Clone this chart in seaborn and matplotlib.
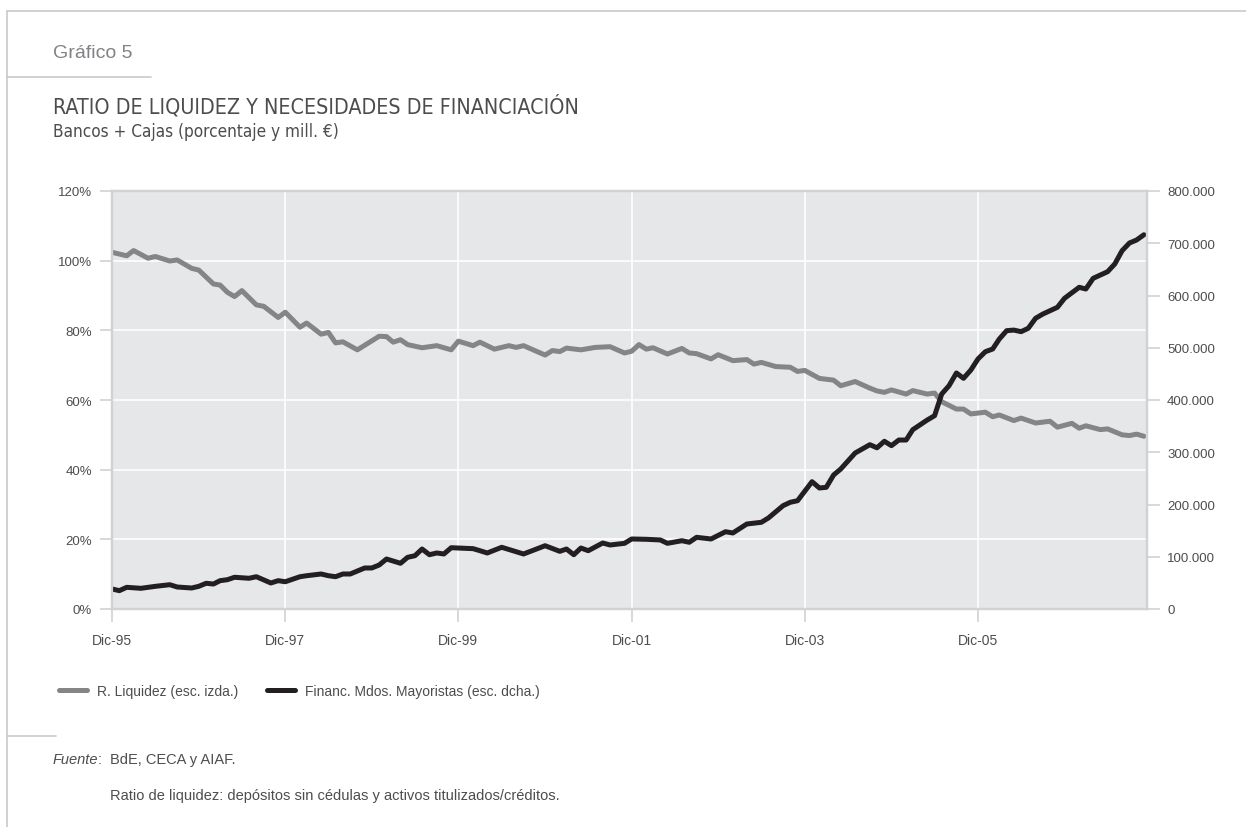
import matplotlib
matplotlib.use("Agg")
import matplotlib.pyplot as plt
from matplotlib.lines import Line2D
from matplotlib.ticker import FuncFormatter
import pandas as pd
import seaborn as sns

# Ratio de liquidez (%), escala izquierda
fechas_liquidez = [
    "1995-12", "1996-02", "1996-03", "1996-05", "1996-06", "1996-08", "1996-09", "1996-11",
    "1996-12", "1997-02", "1997-03", "1997-04", "1997-05", "1997-06", "1997-08", "1997-09",
    "1997-11", "1997-12", "1998-02", "1998-03", "1998-05", "1998-06", "1998-07", "1998-08",
    "1998-10", "1999-01", "1999-02", "1999-03", "1999-04", "1999-05", "1999-07", "1999-09",
    "1999-11", "1999-12", "2000-02", "2000-03", "2000-05", "2000-07", "2000-08", "2000-09",
    "2000-12", "2001-01", "2001-02", "2001-03", "2001-05", "2001-07", "2001-09", "2001-11",
    "2001-12", "2002-01", "2002-02", "2002-03", "2002-05", "2002-07", "2002-08", "2002-09",
    "2002-11", "2002-12", "2003-02", "2003-04", "2003-05", "2003-06", "2003-08", "2003-10",
    "2003-11", "2003-12", "2004-02", "2004-04", "2004-05", "2004-07", "2004-09", "2004-10",
    "2004-11", "2004-12", "2005-02", "2005-03", "2005-05", "2005-06", "2005-07", "2005-09",
    "2005-10", "2005-11", "2006-01", "2006-02", "2006-03", "2006-05", "2006-06", "2006-08",
    "2006-10", "2006-11", "2007-01", "2007-02", "2007-03", "2007-05", "2007-06", "2007-08",
    "2007-09", "2007-10", "2007-11",
]
ratio_liquidez = [
    102.4, 101.4, 102.9, 100.7, 101.2, 99.9, 100.2, 97.8,
    97.3, 93.3, 93.0, 90.9, 89.7, 91.4, 87.3, 86.9,
    83.7, 85.2, 80.9, 82.1, 78.9, 79.4, 76.4, 76.7,
    74.4, 78.3, 78.2, 76.6, 77.3, 75.9, 75.0, 75.6,
    74.4, 76.9, 75.6, 76.6, 74.6, 75.6, 75.1, 75.6,
    72.9, 74.2, 73.9, 74.9, 74.4, 75.1, 75.3, 73.5,
    74.0, 75.9, 74.6, 75.0, 73.2, 74.8, 73.5, 73.3,
    71.8, 73.0, 71.3, 71.6, 70.3, 70.8, 69.6, 69.4,
    68.2, 68.5, 66.2, 65.7, 64.1, 65.3, 63.4, 62.6,
    62.2, 62.9, 61.7, 62.7, 61.7, 62.0, 59.5, 57.4,
    57.4, 56.0, 56.5, 55.2, 55.7, 54.1, 54.8, 53.4,
    53.9, 52.2, 53.3, 51.9, 52.6, 51.5, 51.7, 50.0,
    49.8, 50.2, 49.6,
]

# Financiación en mercados mayoristas (mill. €), escala derecha
fechas_financ = [
    "1995-12", "1996-01", "1996-02", "1996-04", "1996-06", "1996-08", "1996-09", "1996-11",
    "1996-12", "1997-01", "1997-02", "1997-03", "1997-04", "1997-05", "1997-07", "1997-08",
    "1997-10", "1997-11", "1997-12", "1998-02", "1998-03", "1998-05", "1998-06", "1998-07",
    "1998-08", "1998-09", "1998-11", "1998-12", "1999-01", "1999-02", "1999-04", "1999-05",
    "1999-06", "1999-07", "1999-08", "1999-09", "1999-10", "1999-11", "1999-12", "2000-02",
    "2000-03", "2000-04", "2000-06", "2000-09", "2000-12", "2001-02", "2001-03", "2001-04",
    "2001-05", "2001-06", "2001-08", "2001-09", "2001-11", "2001-12", "2002-02", "2002-04",
    "2002-05", "2002-07", "2002-08", "2002-09", "2002-11", "2003-01", "2003-02", "2003-04",
    "2003-06", "2003-07", "2003-09", "2003-10", "2003-11", "2004-01", "2004-02", "2004-03",
    "2004-04", "2004-05", "2004-07", "2004-09", "2004-10", "2004-11", "2004-12", "2005-01",
    "2005-02", "2005-03", "2005-05", "2005-06", "2005-07", "2005-08", "2005-09", "2005-10",
    "2005-11", "2005-12", "2006-01", "2006-02", "2006-03", "2006-04", "2006-05", "2006-06",
    "2006-07", "2006-08", "2006-09", "2006-11", "2006-12", "2007-02", "2007-03", "2007-04",
    "2007-06", "2007-07", "2007-08", "2007-09", "2007-10", "2007-11",
]
financ_mayoristas = [
    38300, 35100, 41500, 39600, 43400, 46500, 42100, 40200,
    43400, 49200, 47800, 54200, 56100, 60700, 58800, 61800,
    49800, 54200, 52200, 61800, 63700, 67000, 63700, 61800,
    67000, 67000, 78500, 78500, 84200, 95700, 87500, 98900,
    102000, 114800, 103900, 107200, 105300, 117300, 116700, 115500,
    111600, 107200, 118100, 105300, 121100, 110400, 114800, 103900,
    116700, 111600, 126300, 122500, 125700, 134000, 133400, 132100,
    125700, 130700, 127700, 137200, 134000, 147900, 145500, 162700,
    165900, 174200, 197800, 204200, 207300, 243700, 231600, 232900,
    256500, 267900, 298600, 314500, 308500, 321000, 312600, 323400,
    323400, 343200, 361700, 370000, 411500, 427400, 451700, 441500,
    457400, 478500, 492400, 497600, 516700, 532700, 533800, 530800,
    537200, 556400, 564600, 577400, 594600, 615700, 612400, 632900,
    645600, 660300, 685800, 700500, 706200, 716300,
]

etiquetas_x = ["Dic-95", "Dic-97", "Dic-99", "Dic-01", "Dic-03", "Dic-05"]
fechas_x = ["1995-12", "1997-12", "1999-12", "2001-12", "2003-12", "2005-12"]

serie_liq = "R. Liquidez (esc. izda.)"
serie_fin = "Financ. Mdos. Mayoristas (esc. dcha.)"

df_liq = pd.DataFrame({"fecha": pd.to_datetime(fechas_liquidez), "valor": ratio_liquidez})
df_fin = pd.DataFrame({"fecha": pd.to_datetime(fechas_financ), "valor": financ_mayoristas})

sns.set_theme(style="white")
plt.rcParams["font.family"] = ["Liberation Sans", "DejaVu Sans"]
CONDENSADA = dict(family="DejaVu Sans", fontstretch="condensed")

W, H = 1246, 828
fig = plt.figure(figsize=(W / 100, H / 100), dpi=100)
fig.patch.set_facecolor("white")


def fx(px):
    return px / W


def fy(py):
    return 1 - py / H


C_GRIS = "#858585"
C_NEGRO = "#231f20"
C_EJE = "#d1d2d4"
C_TEXTO = "#4d4d4f"

ax = fig.add_axes([fx(112), fy(610), fx(1147) - fx(112), fy(192) - fy(610)])
ax.set_facecolor("#e6e7e8")
sns.lineplot(data=df_liq, x="fecha", y="valor", ax=ax, color=C_GRIS,
             linewidth=3.6, label=serie_liq, legend=False)
ax2 = ax.twinx()
sns.lineplot(data=df_fin, x="fecha", y="valor", ax=ax2, color=C_NEGRO,
             linewidth=3.6, label=serie_fin, legend=False)

ax.set_xlim(pd.Timestamp("1995-12-01"), pd.Timestamp("2007-11-14"))
ax.set_ylim(0, 120)
ax2.set_ylim(0, 800000)

ax.set_yticks(range(0, 121, 20))
ax.yaxis.set_major_formatter(FuncFormatter(lambda v, p: f"{v:.0f}%"))
ax2.set_yticks(range(0, 800001, 100000))
ax2.yaxis.set_major_formatter(
    FuncFormatter(lambda v, p: f"{v:,.0f}".replace(",", ".")))
ax.set_xticks(pd.to_datetime(fechas_x))
ax.set_xticklabels(etiquetas_x)

for a in (ax, ax2):
    a.set_xlabel("")
    a.set_ylabel("")

ax.set_axisbelow(True)
ax.grid(True, color="white", linewidth=1.2)
ax2.grid(False)

for a in (ax, ax2):
    for s in a.spines.values():
        s.set_visible(True)
        s.set_color(C_EJE)
        s.set_linewidth(1.6)

ax.tick_params(axis="y", left=True, length=9, width=1.2, color=C_EJE, pad=5.5,
               labelsize=9.5, labelcolor=C_TEXTO)
ax.tick_params(axis="x", bottom=True, length=9.5, width=1.2, color=C_EJE, pad=8,
               labelsize=10, labelcolor=C_TEXTO)
ax2.tick_params(axis="y", right=True, length=9, width=1.2, color=C_EJE, pad=5.5,
                labelsize=9.5, labelcolor=C_TEXTO)

# Leyenda
handles = [Line2D([], [], color=C_GRIS, linewidth=3.6),
           Line2D([], [], color=C_NEGRO, linewidth=3.6)]
fig.legend(handles, [serie_liq, serie_fin], loc="center left",
           bbox_to_anchor=(fx(59), fy(692)), ncol=2, frameon=False,
           fontsize=10, handlelength=2.0, handletextpad=0.72,
           columnspacing=2.1, borderpad=0, borderaxespad=0, labelcolor=C_TEXTO)

# Marco y separadores
C_MARCO = "#c8c9cb"
for (x0, y0, x1, y1) in [(7, 12, W, 12), (7, 12, 7, H), (7, 77.7, 151, 77.7),
                         (7, 736.7, 56, 736.7)]:
    fig.add_artist(Line2D([fx(x0), fx(x1)], [fy(y0), fy(y1)], color=C_MARCO,
                          linewidth=1.2, transform=fig.transFigure))

# Textos
fig.text(fx(53), fy(58.3), "Gráfico 5", fontsize=14, color="#808285",
         va="baseline")
fig.text(fx(53), fy(114), "RATIO DE LIQUIDEZ Y NECESIDADES DE FINANCIACIÓN",
         fontsize=15.4, color=C_TEXTO, va="baseline", **CONDENSADA)
fig.text(fx(53), fy(137.3), "Bancos + Cajas (porcentaje y mill. €)",
         fontsize=12.3, color=C_TEXTO, va="baseline", **CONDENSADA)
fig.text(fx(53), fy(764.3), "Fuente", fontsize=10.5, color=C_TEXTO,
         style="italic", va="baseline")
fig.text(fx(97.5), fy(764.3), ":", fontsize=10.5, color=C_TEXTO, va="baseline")
fig.text(fx(110), fy(764.3), "BdE, CECA y AIAF.", fontsize=10.5,
         color=C_TEXTO, va="baseline")
fig.text(fx(110), fy(800), "Ratio de liquidez: depósitos sin cédulas y activos "
         "titulizados/créditos.", fontsize=10.5, color=C_TEXTO, va="baseline")

fig.savefig("out.png", dpi=100, facecolor="white")
